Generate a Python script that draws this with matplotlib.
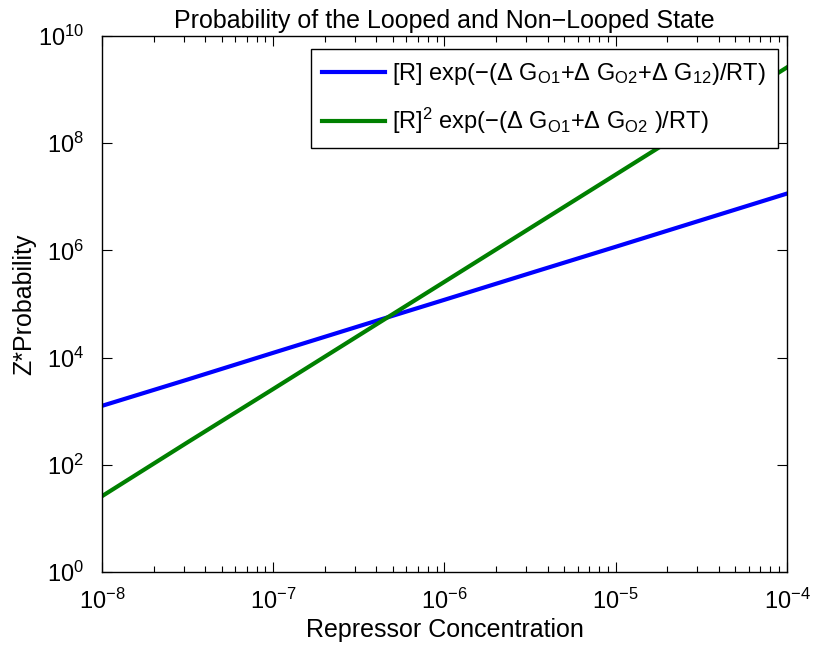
import numpy as np
import matplotlib
matplotlib.use("Agg")
import matplotlib.pyplot as plt

plt.rcParams['font.family'] = ['Liberation Sans', 'DejaVu Sans']
plt.rcParams['mathtext.fontset'] = 'custom'
plt.rcParams['mathtext.rm'] = 'Liberation Sans'
plt.rcParams['mathtext.it'] = 'Liberation Sans:italic'
plt.rcParams['mathtext.bf'] = 'Liberation Sans:bold'

# repressor concentration (M), read at half-decade steps
conc = [1e-8, 3.16e-8, 1e-7, 3.16e-7, 1e-6, 3.16e-6, 1e-5, 3.16e-5, 1e-4]
# looped state term
looped = [1.26e3, 3.9e3, 1.23e4, 3.85e4, 1.2e5, 3.76e5, 1.17e6, 3.67e6, 1.15e7]
# non-looped (two repressors) term
nonlooped = [26, 263, 2.6e3, 2.6e4, 2.6e5, 2.6e6, 2.6e7, 2.6e8, 2.6e9]

label_looped = r'[R] exp($-$($\Delta$ G$_{\rm O1}$+$\Delta$ G$_{\rm O2}$+$\Delta$ G$_{\rm 12}$)/RT)'
label_nonlooped = r'[R]$^{\rm 2}$ exp($-$($\Delta$ G$_{\rm O1}$+$\Delta$ G$_{\rm O2}$ )/RT)'

fig = plt.figure(figsize=(8.14, 6.49), dpi=100)
ax = fig.add_axes([0.1253, 0.1186, 0.8415, 0.8259])

ax.loglog(conc, looped, color=(0, 0, 1), lw=3, label=label_looped)
ax.loglog(conc, nonlooped, color=(0, 0.5, 0), lw=3, label=label_nonlooped)

ax.set_xlim(1e-8, 1e-4)
ax.set_ylim(1e0, 1e10)
ax.set_yticks([1e0, 1e2, 1e4, 1e6, 1e8, 1e10])
ax.yaxis.set_minor_locator(matplotlib.ticker.NullLocator())

ax.tick_params(which='both', direction='in', top=True, right=True, labelsize=17)
ax.tick_params(which='major', length=7, width=0.8)
ax.tick_params(which='minor', length=4, width=0.8)
ax.tick_params(axis='x', pad=12)
ax.tick_params(axis='y', pad=13)
for s in ax.spines.values():
    s.set_linewidth(1.0)

ax.set_title('Probability of the Looped and Non\u2212Looped State', fontsize=18, pad=6)
ax.set_xlabel('Repressor Concentration', fontsize=18, labelpad=3)
ax.set_ylabel('Z*Probability', fontsize=18, labelpad=1)

leg = ax.legend(loc='upper right', bbox_to_anchor=(0.9869, 0.9758), fontsize=17,
                fancybox=False, edgecolor='black', framealpha=1,
                handlelength=2.67, handletextpad=0.3, borderaxespad=0,
                labelspacing=0.8, borderpad=0.5)
leg.get_frame().set_linewidth(1.0)

fig.savefig('out.png', dpi=100)
